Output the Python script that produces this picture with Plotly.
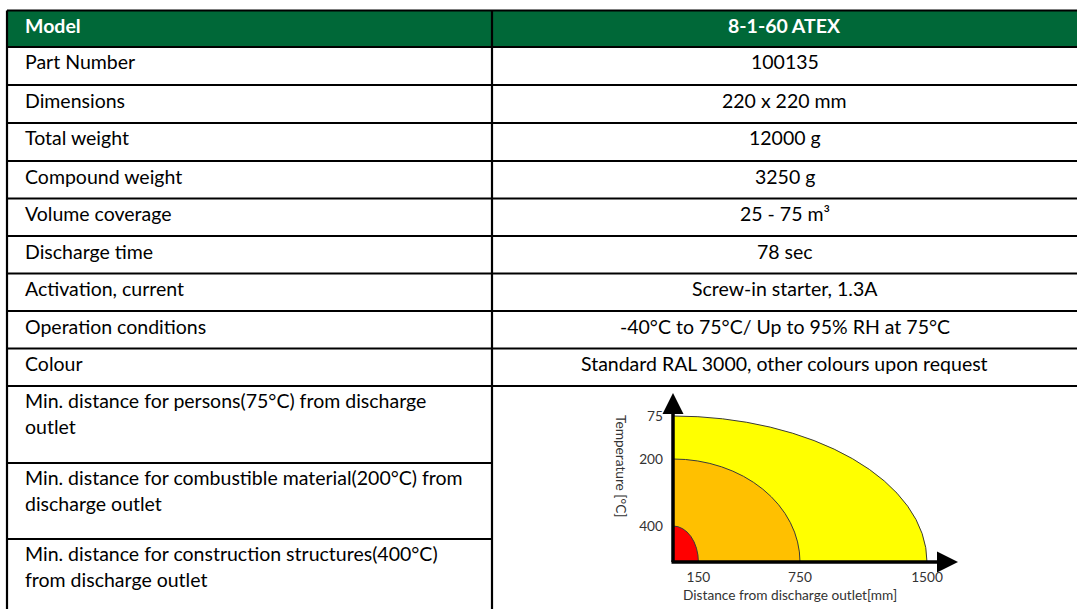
import plotly.graph_objects as go

W, H = 1077, 609

# ---------------- data ----------------
header_left = "Model"
header_right = "8-1-60 ATEX"
row_labels = ["Part Number", "Dimensions", "Total weight", "Compound weight",
              "Volume coverage", "Discharge time", "Activation, current",
              "Operation conditions", "Colour"]
row_values = ["100135", "220 x 220 mm", "12000 g", "3250 g", "25 - 75 m³",
              "78 sec", "Screw-in starter, 1.3A",
              "-40°C to 75°C/ Up to 95% RH at 75°C",
              "Standard RAL 3000, other colours upon request"]
distance_rows = [
    ["Min. distance for persons(75°C) from discharge", "outlet"],
    ["Min. distance for combustible material(200°C) from", "discharge outlet"],
    ["Min. distance for construction structures(400°C)", "from discharge outlet"],
]

zone_temps = ["75", "200", "400"]          # temperature labels [°C]
zone_distance_mm = [1500, 750, 150]        # distance from outlet [mm]
zone_extent = [146, 103, 36]               # relative vertical extent of each zone
zone_colors = ["#FFFF00", "#FFC000", "#FF0000"]

# ---------------- geometry (pixels) ----------------
x_left, x_mid, x_right = 7, 492, 1080
row_edges = [10.5, 47, 85, 123, 161, 198.5, 236, 273.5, 311, 348.5, 386]
tall_edges = [386, 463, 539, 612]
text_x = 23
right_center = (x_mid + 1077) / 2

def px(x):
    return x / W

def py(y):
    return 1 - y / H

GREEN = "#006838"
FONT = "Lato"
fs = 19.5

shapes = []
annotations = []

# header fill
shapes.append(dict(type="rect", xref="paper", yref="paper",
                   x0=px(x_left), x1=px(x_right), y0=py(row_edges[1]), y1=py(row_edges[0]),
                   fillcolor=GREEN, line=dict(width=0), layer="below"))

# horizontal lines across full width
for ye in row_edges:
    shapes.append(dict(type="line", xref="paper", yref="paper",
                       x0=px(x_left), x1=px(x_right), y0=py(ye), y1=py(ye),
                       line=dict(color="black", width=2.2)))
# horizontal lines in left column of tall rows
for ye in tall_edges[1:3]:
    shapes.append(dict(type="line", xref="paper", yref="paper",
                       x0=px(x_left), x1=px(x_mid), y0=py(ye), y1=py(ye),
                       line=dict(color="black", width=2.2)))
# vertical lines
for xe in (x_left, x_mid):
    shapes.append(dict(type="line", xref="paper", yref="paper",
                       x0=px(xe), x1=px(xe), y0=py(row_edges[0]), y1=py(612),
                       line=dict(color="black", width=2.2)))

# header text
annotations.append(dict(xref="paper", yref="paper", x=px(text_x), y=py(row_edges[0] + 15.5),
                        text="<b>%s</b>" % header_left, showarrow=False,
                        xanchor="left", yanchor="middle",
                        font=dict(family=FONT, size=fs, color="white")))
annotations.append(dict(xref="paper", yref="paper", x=px(right_center), y=py(row_edges[0] + 15.5),
                        text="<b>%s</b>" % header_right, showarrow=False,
                        xanchor="center", yanchor="middle",
                        font=dict(family=FONT, size=fs, color="white")))

# body rows
for i, (lab, val) in enumerate(zip(row_labels, row_values)):
    yc = row_edges[i + 1] + 15
    annotations.append(dict(xref="paper", yref="paper", x=px(text_x), y=py(yc),
                            text=lab, showarrow=False, xanchor="left", yanchor="middle",
                            font=dict(family=FONT, size=fs, color="black")))
    annotations.append(dict(xref="paper", yref="paper", x=px(right_center), y=py(yc),
                            text=val, showarrow=False, xanchor="center", yanchor="middle",
                            font=dict(family=FONT, size=fs, color="black")))

# tall rows
for i, lines in enumerate(distance_rows):
    top = tall_edges[i]
    for j, line in enumerate(lines):
        annotations.append(dict(xref="paper", yref="paper", x=px(text_x), y=py(top + 14 + 26 * j),
                                text=line, showarrow=False, xanchor="left", yanchor="middle",
                                font=dict(family=FONT, size=fs, color="black")))

# ---------------- chart ----------------
ox, oy = 673, 562          # origin in pixels
x_end, y_end = 960, 392    # axis ends in pixels
mm_per_px = 1500 / (927 - ox)
x_max = (x_end - ox) * mm_per_px
y_max = oy - y_end

for d, e, c in zip(zone_distance_mm, zone_extent, zone_colors):
    shapes.append(dict(type="circle", xref="x", yref="y",
                       x0=-d, x1=d, y0=-e, y1=e,
                       fillcolor=c, line=dict(color="#3a3a3a", width=1), layer="below"))

# axis arrows
annotations.append(dict(xref="x", yref="y", axref="x", ayref="y",
                        x=x_max - 2 * mm_per_px, y=0, ax=-3 * mm_per_px, ay=0, text="",
                        showarrow=True, arrowhead=2, arrowsize=1.2, arrowwidth=3.5,
                        arrowcolor="black", standoff=0, startstandoff=0))
annotations.append(dict(xref="x", yref="y", axref="x", ayref="y",
                        x=0, y=y_max - 1, ax=0, ay=-1.5, text="",
                        showarrow=True, arrowhead=2, arrowsize=1.2, arrowwidth=3.5,
                        arrowcolor="black", standoff=0, startstandoff=0))

chart_font = dict(family=FONT, size=13.7, color="#333333")
annotations.append(dict(xref="paper", yref="paper", x=px(790), y=py(594),
                        text="Distance from discharge outlet[mm]", showarrow=False,
                        xanchor="center", yanchor="middle", font=chart_font))
annotations.append(dict(xref="paper", yref="paper", x=px(622), y=py(466),
                        text="Temperature [°C]", showarrow=False, textangle=90,
                        xanchor="center", yanchor="middle", font=chart_font))

fig = go.Figure()
fig.update_layout(
    width=W, height=H,
    margin=dict(l=0, r=0, t=0, b=0),
    paper_bgcolor="white", plot_bgcolor="rgba(0,0,0,0)",
    showlegend=False,
    shapes=shapes, annotations=annotations,
    xaxis=dict(domain=[px(ox), px(x_end)], range=[0, x_max],
               showgrid=False, zeroline=False, showline=False,
               tickmode="array", tickvals=zone_distance_mm, ticktext=[str(v) for v in zone_distance_mm],
               ticks="", ticklabelstandoff=5, tickfont=chart_font, fixedrange=True),
    yaxis=dict(domain=[py(oy), py(y_end)], range=[0, y_max],
               showgrid=False, zeroline=False, showline=False,
               tickmode="array", tickvals=zone_extent, ticktext=zone_temps,
               ticks="", ticklabelstandoff=9, tickfont=chart_font, fixedrange=True),
)

fig.write_html("out.html", config={"displayModeBar": False},
               post_script="document.body.style.margin='0';document.body.style.overflow='hidden';")
